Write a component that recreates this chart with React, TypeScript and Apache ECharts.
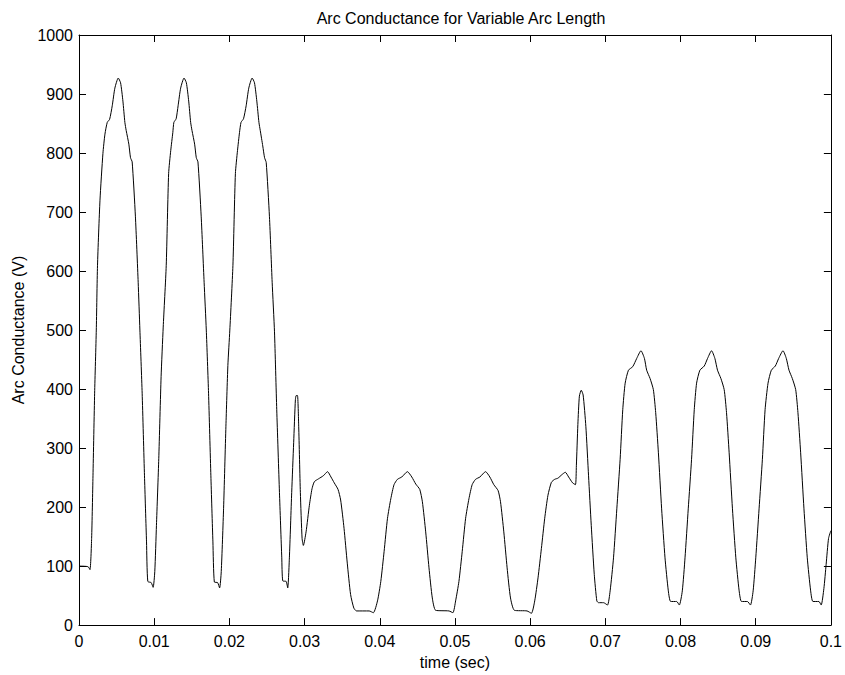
import { useEffect, useRef } from "react";
import * as echarts from "echarts";

const chartTitle = "Arc Conductance for Variable Arc Length";
const xAxisName = "time (sec)";
const yAxisName = "Arc Conductance (V)";

// [time (s), conductance]
const firstSegment: number[][] = [
  [0, 100], [0.0012, 99], [0.00146, 94], [0.00168, 147], [0.00186, 253], [0.00208, 393],
  [0.0023, 500], [0.00246, 609], [0.00279, 720], [0.00318, 799], [0.00345, 832], [0.00376, 852],
  [0.00407, 857], [0.00442, 880], [0.00477, 910], [0.00522, 927], [0.00553, 919], [0.00584, 888],
  [0.0061, 852], [0.00628, 838], [0.00663, 815], [0.00685, 792], [0.00707, 785], [0.0075, 693],
  [0.00787, 581], [0.0081, 500], [0.0084, 393], [0.00871, 253], [0.00898, 141], [0.00915, 74],
  [0.0096, 72], [0.00986, 64], [0.01008, 91], [0.0103, 169], [0.01061, 282], [0.01092, 421],
  [0.0112, 505], [0.0116, 609], [0.01192, 765], [0.0122, 804], [0.01248, 835], [0.01262, 852],
  [0.01292, 858], [0.01318, 880], [0.01352, 910], [0.01397, 927], [0.01428, 919], [0.01459, 888],
  [0.01485, 852], [0.01503, 838], [0.01538, 815], [0.0156, 792], [0.01582, 785], [0.01625, 693],
  [0.01664, 581], [0.01693, 500], [0.01723, 393], [0.01754, 253], [0.01781, 141], [0.018, 73],
  [0.01844, 72], [0.0187, 63], [0.01892, 91], [0.01923, 198], [0.01954, 337], [0.0198, 440],
  [0.02006, 500], [0.02047, 609], [0.0208, 765], [0.02108, 804], [0.02135, 835], [0.02155, 852],
  [0.02188, 858], [0.02223, 880], [0.02258, 910], [0.02303, 927], [0.02334, 919], [0.02365, 888],
  [0.02393, 852], [0.02411, 838], [0.02444, 812], [0.02468, 792], [0.0249, 784], [0.02533, 692],
  [0.02569, 581], [0.026, 497], [0.0263, 365], [0.02666, 225], [0.02697, 114], [0.0271, 75],
  [0.02755, 74], [0.02776, 63],
];

const secondSegment: number[][] = [
  [0.02798, 114], [0.02829, 225], [0.02855, 309], [0.02878, 382], [0.02889, 389], [0.02906, 389],
  [0.02922, 337], [0.02944, 225], [0.02967, 147], [0.02984, 135], [0.0302, 158], [0.03064, 203],
  [0.03099, 231], [0.0313, 243], [0.03187, 248], [0.03249, 253], [0.03306, 260], [0.03351, 251],
  [0.03395, 241], [0.03445, 230], [0.0348, 212], [0.03525, 164], [0.03568, 105], [0.03612, 52],
  [0.03655, 29], [0.03691, 24], [0.03859, 24], [0.03915, 21], [0.0397, 41], [0.04014, 74],
  [0.04058, 125], [0.04103, 181], [0.04147, 214], [0.0419, 238], [0.04235, 247], [0.04293, 251],
  [0.04368, 260], [0.04426, 251], [0.04479, 239], [0.04532, 230], [0.04567, 209], [0.04611, 158],
  [0.04655, 97], [0.04699, 46], [0.04744, 25], [0.0492, 24], [0.04973, 21], [0.05009, 41],
  [0.05053, 74], [0.05097, 125], [0.05142, 181], [0.05186, 214], [0.05229, 238], [0.05274, 247],
  [0.05332, 251], [0.05407, 260], [0.05464, 251], [0.05517, 238], [0.05574, 228], [0.05606, 209],
  [0.0565, 158], [0.05694, 97], [0.05739, 46], [0.05792, 25], [0.05959, 24], [0.06017, 20],
  [0.06061, 41], [0.06105, 80], [0.0615, 130], [0.06194, 181], [0.06237, 220], [0.06283, 242],
  [0.06326, 247], [0.0637, 249], [0.06423, 255], [0.06468, 259], [0.06512, 251], [0.06565, 241],
  [0.06603, 238], [0.06615, 270], [0.06635, 340], [0.06655, 388], [0.0668, 398], [0.06705, 390],
  [0.06741, 337], [0.06777, 253], [0.06813, 169], [0.06853, 86], [0.06887, 41], [0.0691, 38],
  [0.06976, 38], [0.07029, 34],
];

const thirdSegment: number[][] = [
  [0.07064, 58], [0.07109, 114], [0.07153, 197], [0.07197, 281], [0.07232, 365], [0.07264, 410],
  [0.07308, 432], [0.07365, 438], [0.07418, 452], [0.07474, 465], [0.0752, 452], [0.0755, 432],
  [0.07595, 418], [0.07639, 399], [0.0767, 360], [0.07706, 292], [0.07749, 197], [0.07794, 114],
  [0.07838, 58], [0.07869, 40], [0.07949, 40], [0.07984, 34], [0.08024, 58], [0.0806, 114],
  [0.08103, 197], [0.08147, 281], [0.08183, 365], [0.08214, 410], [0.08258, 432], [0.08316, 439],
  [0.0836, 452], [0.08413, 465], [0.08457, 452], [0.08492, 432], [0.08537, 418], [0.08581, 399],
  [0.08612, 360], [0.08647, 292], [0.08691, 197], [0.08736, 114], [0.0878, 58], [0.08811, 40],
  [0.0889, 40], [0.0893, 34], [0.08966, 58], [0.09001, 114], [0.09045, 197], [0.09089, 281],
  [0.09125, 365], [0.09164, 410], [0.09208, 432], [0.09261, 439], [0.09306, 452], [0.09363, 465],
  [0.09407, 452], [0.09443, 432], [0.09487, 418], [0.09532, 399], [0.09562, 360], [0.09598, 292],
  [0.09642, 197], [0.09686, 114], [0.09731, 58], [0.09761, 40], [0.09841, 40], [0.09871, 34],
  [0.09907, 62], [0.09937, 103], [0.09969, 147], [0.1, 160],
];

const xMin = 0;
const xMax = 0.1;
const xStep = 0.01;
const yMin = 0;
const yMax = 1000;
const yStep = 100;

const FONT = "Liberation Sans, Arial, Helvetica, sans-serif";
const FS = 16;

export default function App() {
  const ref = useRef<HTMLDivElement>(null);
  useEffect(() => {
    if (!ref.current) return;
    const chart = echarts.init(ref.current, null, { renderer: "svg" });
    const lineStyle = { color: "#000", width: 1 };
    const baseX = {
      type: "value",
      min: xMin,
      max: xMax,
      interval: xStep,
      splitLine: { show: false },
      axisLine: { show: true, onZero: false, lineStyle },
      axisTick: { show: true, inside: true, length: 7, lineStyle },
    };
    const baseY = {
      type: "value",
      min: yMin,
      max: yMax,
      interval: yStep,
      splitLine: { show: false },
      axisLine: { show: true, onZero: false, lineStyle },
      axisTick: { show: true, inside: true, length: 7, lineStyle },
    };
    chart.setOption({
      animation: false,
      backgroundColor: "#fff",
      textStyle: { fontFamily: FONT },
      title: {
        text: chartTitle,
        left: 456,
        textAlign: "center",
        top: 5,
        textStyle: { fontFamily: FONT, fontSize: FS, fontWeight: "normal", color: "#000" },
      },
      grid: { left: 79, right: 12, top: 35, bottom: 44, containLabel: false },
      xAxis: [
        {
          ...baseX,
          position: "bottom",
          name: xAxisName,
          nameLocation: "middle",
          nameGap: 25,
          nameTextStyle: { fontFamily: FONT, fontSize: FS, color: "#000" },
          axisLabel: {
            color: "#000",
            fontFamily: FONT,
            fontSize: FS,
            margin: 8,
            formatter: (v: number) => String(+v.toFixed(2)),
          },
        },
        { ...baseX, position: "top", axisLabel: { show: false } },
      ],
      yAxis: [
        {
          ...baseY,
          position: "left",
          name: yAxisName,
          nameLocation: "middle",
          nameGap: 53,
          nameTextStyle: { fontFamily: FONT, fontSize: FS, color: "#000" },
          axisLabel: {
            color: "#000",
            fontFamily: FONT,
            fontSize: FS,
            margin: 6,
            formatter: (v: number) => String(Math.round(v)),
          },
        },
        { ...baseY, position: "right", axisLabel: { show: false } },
      ],
      series: [
        {
          type: "line",
          xAxisIndex: 0,
          yAxisIndex: 0,
          data: [...firstSegment, ...secondSegment, ...thirdSegment],
          showSymbol: false,
          smooth: 0.2,
          lineStyle: { color: "#000", width: 1 },
          silent: true,
        },
      ],
    });
    return () => chart.dispose();
  }, []);
  return (
    <div
      ref={ref}
      style={{ position: "fixed", left: 0, top: 0, width: 845, height: 675 }}
    />
  );
}
